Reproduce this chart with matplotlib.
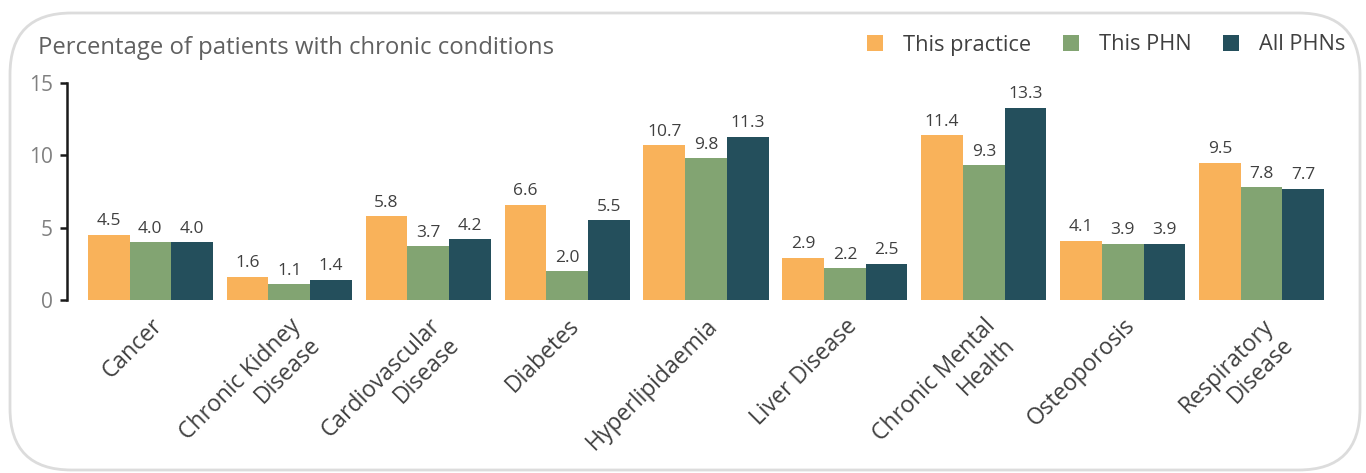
import matplotlib
matplotlib.use("Agg")
import matplotlib.pyplot as plt
import numpy as np
from matplotlib.patches import FancyBboxPatch

plt.rcParams["font.family"] = ["Open Sans", "DejaVu Sans"]

# data
conditions = [
    "Cancer",
    "Chronic Kidney\nDisease",
    "Cardiovascular\nDisease",
    "Diabetes",
    "Hyperlipidaemia",
    "Liver Disease",
    "Chronic Mental\nHealth",
    "Osteoporosis",
    "Respiratory\nDisease",
]
this_practice = [4.5, 1.6, 5.8, 6.6, 10.7, 2.9, 11.4, 4.1, 9.5]
this_phn = [4.0, 1.1, 3.7, 2.0, 9.8, 2.2, 9.3, 3.9, 7.8]
all_phns = [4.0, 1.4, 4.2, 5.5, 11.3, 2.5, 13.3, 3.9, 7.7]
series_names = ["This practice", "This PHN", "All PHNs"]
y_ticks = [0, 5, 10, 15]

colors = ["#F9B25A", "#82A472", "#244F5C"]

fig = plt.figure(figsize=(13.66, 4.73), dpi=100)

# rounded card border behind everything
card = FancyBboxPatch(
    (10 / 1366, 3 / 473), 1350 / 1366, 457 / 473,
    boxstyle="round,pad=0,rounding_size=0.045",
    transform=fig.transFigure, facecolor="none", edgecolor="#dcdcdc",
    linewidth=2, mutation_aspect=1366 / 473, zorder=-1,
)
fig.patches.append(card)

ax = fig.add_axes([67 / 1366, 173 / 473, 1278 / 1366, 217 / 473])
ax.set_facecolor("none")

x = np.arange(len(conditions))
width = 0.3
for i, (values, name) in enumerate(zip([this_practice, this_phn, all_phns], series_names)):
    bars = ax.bar(x + (i - 1) * width, values, width, color=colors[i], label=name)
    ax.bar_label(bars, labels=[f"{v:.1f}" for v in values], padding=4,
                 fontsize=12.5, color="#404040")

ax.set_xlim(-0.6, len(conditions) - 0.4)
ax.set_ylim(0, 15)
ax.set_yticks(y_ticks)
ax.tick_params(axis="y", colors="#1a1a1a", labelcolor="#808080", labelsize=15,
               length=5, width=1.8, pad=5)
ax.set_xticks(x)
ax.set_xticklabels(conditions, rotation=45, ha="right", va="top",
                   rotation_mode="anchor", fontsize=16.5, color="#404040",
                   multialignment="right")
ax.tick_params(axis="x", length=0, pad=10)

for side in ["top", "right", "bottom"]:
    ax.spines[side].set_visible(False)
ax.spines["left"].set_linewidth(1.8)
ax.spines["left"].set_color("#1a1a1a")

fig.text(38 / 1366, 1 - 48 / 473, "Percentage of patients with chronic conditions",
         fontsize=17.2, color="#606060", va="center", ha="left")

fig.legend(loc="center right", bbox_to_anchor=(1365 / 1366, 1 - 45 / 473),
           ncol=3, frameon=False, fontsize=15.7, labelcolor="#404040",
           handlelength=0.75, handleheight=0.75, handletextpad=0.9,
           columnspacing=1.45)

fig.savefig("out.png", dpi=100)
